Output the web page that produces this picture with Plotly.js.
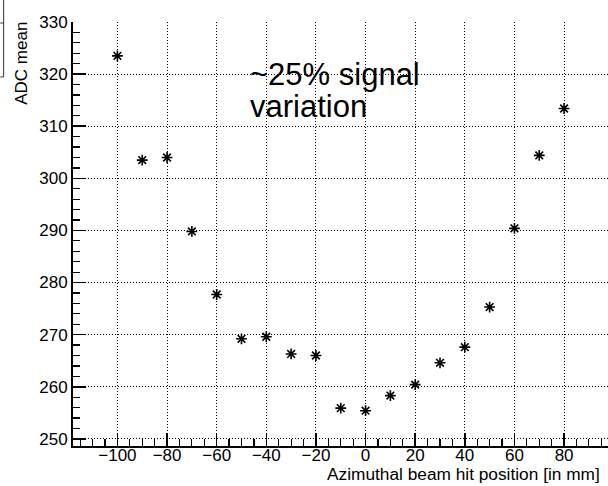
<!DOCTYPE html>
<html>
<head>
<meta charset="utf-8">
<script src="https://cdn.plot.ly/plotly-3.0.1.min.js"></script>
<style>html,body{margin:0;padding:0;background:#fff;}#chart{width:608px;height:486px;}</style>
</head>
<body>
<div id="chart"></div>
<script>
// Data
const positions = [-100, -90, -80, -70, -60, -50, -40, -30, -20, -10, 0, 10, 20, 30, 40, 50, 60, 70, 80];
const adcMean  = [323.5, 303.5, 304.0, 289.8, 277.7, 269.2, 269.6, 266.3, 266.0, 255.9, 255.4, 258.3, 260.4, 264.6, 267.6, 275.3, 290.4, 304.4, 313.4];
const xTitle = "Azimuthal beam hit position [in mm]";
const yTitle = "ADC mean";
const noteLine1 = "~25% signal";
const noteLine2 = "variation";

const W = 608, H = 486;
const L = 72.7, R = 608, T = 22, B = 446.5;
const pw = R - L, ph = B - T;
const px = x => (x - L) / pw;
const py = y => (B - y) / ph;

const font = "Liberation Sans, Arial, Helvetica, sans-serif";

const trace = {
  x: positions,
  y: adcMean,
  type: "scatter",
  mode: "markers",
  marker: {symbol: "asterisk-open", size: 9, color: "#000", line: {color: "#000", width: 1.6}},
  hoverinfo: "x+y",
  cliponaxis: false
};

const layout = {
  width: W, height: H,
  margin: {l: L, r: W - R, t: T, b: H - B, autoexpand: false},
  paper_bgcolor: "#fff",
  plot_bgcolor: "#fff",
  showlegend: false,
  font: {family: font, color: "#000", size: 17},
  xaxis: {
    range: [-117.9, 97.7],
    tickmode: "linear", tick0: 0, dtick: 20,
    ticks: "inside", ticklen: 13, tickwidth: 1.5, tickcolor: "#000",
    minor: {dtick: 5, tick0: 0, ticks: "inside", ticklen: 7, tickwidth: 1.2, tickcolor: "#000", showgrid: false},
    showline: true, linecolor: "#000", linewidth: 2,
    showgrid: true, gridcolor: "#000", gridwidth: 1, griddash: "1px,2px",
    zeroline: false,
    tickfont: {family: font, size: 17, color: "#000"},
    ticklabelstandoff: -7
  },
  yaxis: {
    range: [248.63, 330],
    tickmode: "linear", tick0: 250, dtick: 10,
    ticks: "inside", ticklen: 13, tickwidth: 1.5, tickcolor: "#000",
    minor: {dtick: 2, tick0: 250, ticks: "inside", ticklen: 7, tickwidth: 1.2, tickcolor: "#000", showgrid: false},
    showline: true, linecolor: "#000", linewidth: 2,
    showgrid: true, gridcolor: "#000", gridwidth: 1, griddash: "1px,2px",
    zeroline: false,
    tickfont: {family: font, size: 17, color: "#000"}
  },
  annotations: [
    {text: xTitle, xref: "paper", yref: "paper", x: px(602), y: py(475), xanchor: "right", yanchor: "middle", showarrow: false, font: {family: font, size: 17.3, color: "#000"}},
    {text: yTitle, xref: "paper", yref: "paper", x: px(21), y: py(63.5), xanchor: "center", yanchor: "middle", textangle: -90, showarrow: false, font: {family: font, size: 17, color: "#000"}},
    {text: noteLine1, xref: "paper", yref: "paper", x: px(248), y: py(75), xanchor: "left", yanchor: "middle", showarrow: false, font: {family: font, size: 31, color: "#000"}},
    {text: noteLine2, xref: "paper", yref: "paper", x: px(248), y: py(107), xanchor: "left", yanchor: "middle", showarrow: false, font: {family: font, size: 31, color: "#000"}}
  ],
  shapes: [
    {type: "line", xref: "paper", yref: "paper", x0: px(3.3), x1: px(3.3), y0: py(0), y1: py(77), line: {color: "#333", width: 1}},
    {type: "line", xref: "paper", yref: "paper", x0: px(0), x1: px(3.3), y0: py(23), y1: py(23), line: {color: "#333", width: 1}},
    {type: "line", xref: "paper", yref: "paper", x0: px(0), x1: px(3.3), y0: py(77), y1: py(77), line: {color: "#333", width: 1}}
  ]
};

Plotly.newPlot("chart", [trace], layout, {displayModeBar: false, staticPlot: true});
</script>
</body>
</html>
